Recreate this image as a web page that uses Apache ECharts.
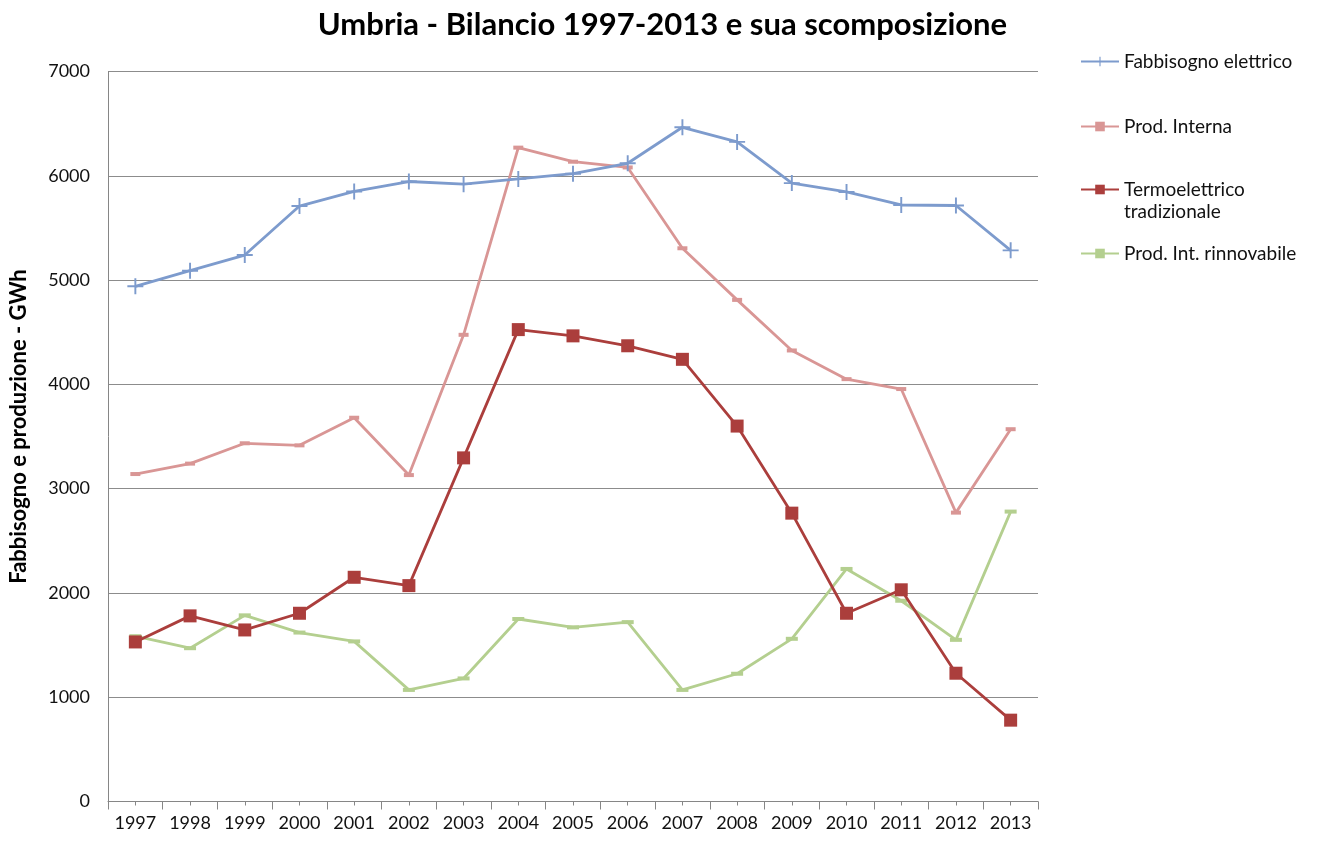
<!DOCTYPE html>
<html>
<head>
<meta charset="utf-8">
<title>Umbria - Bilancio 1997-2013</title>
<script src="https://cdn.jsdelivr.net/npm/echarts@6/dist/echarts.min.js"></script>
<style>
  * { margin: 0; padding: 0; }
  html, body { background: #fff; }
  #chart { width: 1325px; height: 841px; }
</style>
</head>
<body>
<!-- contenitore del grafico -->
<div id="chart"></div>
<script>
  var anni = ['1997','1998','1999','2000','2001','2002','2003','2004','2005','2006','2007','2008','2009','2010','2011','2012','2013'];
  var fabbisogno = [4940, 5090, 5240, 5710, 5850, 5945, 5920, 5970, 6020, 6120, 6465, 6325, 5930, 5845, 5720, 5715, 5285];
  var prodInterna = [3140, 3240, 3435, 3415, 3680, 3130, 4475, 6270, 6135, 6080, 5305, 4810, 4325, 4050, 3955, 2770, 3570];
  var termoelettrico = [1530, 1780, 1645, 1805, 2150, 2070, 3295, 4525, 4465, 4370, 4240, 3600, 2765, 1805, 2030, 1230, 780];
  var rinnovabile = [1585, 1470, 1785, 1620, 1535, 1070, 1180, 1750, 1670, 1720, 1070, 1225, 1560, 2230, 1925, 1550, 2780];

  var font = 'Lato, "Open Sans", sans-serif';
  var croce = 'path://M4.4,0 H5.6 V4.4 H10 V5.6 H5.6 V10 H4.4 V5.6 H0 V4.4 H4.4 Z';

  var charts = echarts.init(document.getElementById('chart'));
  charts.setOption({
    animation: false,
    textStyle: { fontFamily: font },
    title: {
      text: 'Umbria - Bilancio 1997-2013 e sua scomposizione',
      left: 'center',
      top: 4,
      textStyle: { fontSize: 31, fontWeight: 'bold', color: '#000', fontFamily: font }
    },
    legend: [
      { data: ['Fabbisogno elettrico'], left: 1075, top: 47 },
      { data: ['Prod. Interna'], left: 1075, top: 112 },
      { data: ['Termoelettrico tradizionale'], left: 1075, top: 175,
        formatter: function () { return 'Termoelettrico'; } },
      { data: ['Prod. Int. rinnovabile'], left: 1075, top: 239 }
    ].map(function (l) {
      l.orient = 'vertical';
      l.itemWidth = 38;
      l.itemHeight = 12;
      l.itemGap = 0;
      l.selectedMode = false;
      l.textStyle = { fontSize: 19, color: '#111', fontFamily: font };
      return l;
    }),
    graphic: [{
      type: 'text',
      left: 1124,
      top: 202,
      style: { text: 'tradizionale', fontSize: 19, fill: '#111', fontFamily: font }
    }],
    grid: {
      left: 108,
      right: 287,
      top: 71.5,
      bottom: 39.5,
      containLabel: false
    },
    xAxis: [{
      type: 'category',
      data: anni,
      boundaryGap: true,
      axisLine: { lineStyle: { color: '#868686', width: 1 } },
      axisTick: { show: true, alignWithLabel: false, length: 8, lineStyle: { color: '#868686' } },
      axisLabel: { fontSize: 18, color: '#111', margin: 13, fontFamily: font }
    }, {
      type: 'category',
      data: anni,
      boundaryGap: true,
      position: 'bottom',
      axisLine: { show: false },
      axisTick: { show: true, alignWithLabel: true, length: 4, lineStyle: { color: '#868686' } },
      axisLabel: { show: false }
    }],
    yAxis: {
      type: 'value',
      min: 0,
      max: 7000,
      interval: 1000,
      name: 'Fabbisogno e produzione - GWh',
      nameLocation: 'middle',
      nameGap: 78,
      nameTextStyle: { fontSize: 22, fontWeight: 'bold', color: '#000', fontFamily: font, padding: [0, 0, 0, 20] },
      axisLine: { show: true, lineStyle: { color: '#868686', width: 1 } },
      axisTick: { show: false },
      axisLabel: {
        fontSize: 18, color: '#111', margin: 18, fontFamily: font,
        formatter: function (v) { return String(v); }
      },
      splitLine: { lineStyle: { color: '#8c8c8c', width: 1 } }
    },
    series: [
      {
        name: 'Fabbisogno elettrico',
        type: 'line',
        data: fabbisogno,
        symbol: croce,
        symbolSize: 16,
        lineStyle: { color: '#7d9bcd', width: 2.8 },
        itemStyle: { color: '#7d9bcd' },
        z: 4
      },
      {
        name: 'Prod. Interna',
        type: 'line',
        data: prodInterna,
        symbol: 'rect',
        symbolSize: [10, 4],
        lineStyle: { color: '#d99695', width: 2.8 },
        itemStyle: { color: '#d99695' },
        z: 3
      },
      {
        name: 'Termoelettrico tradizionale',
        type: 'line',
        data: termoelettrico,
        symbol: 'rect',
        symbolSize: 13,
        lineStyle: { color: '#ab3e3c', width: 2.8 },
        itemStyle: { color: '#ab3e3c' },
        z: 5
      },
      {
        name: 'Prod. Int. rinnovabile',
        type: 'line',
        data: rinnovabile,
        symbol: 'rect',
        symbolSize: [12, 4],
        lineStyle: { color: '#b4cf8f', width: 2.8 },
        itemStyle: { color: '#b4cf8f' },
        z: 2
      }
    ]
  });
</script>
</body>
</html>
